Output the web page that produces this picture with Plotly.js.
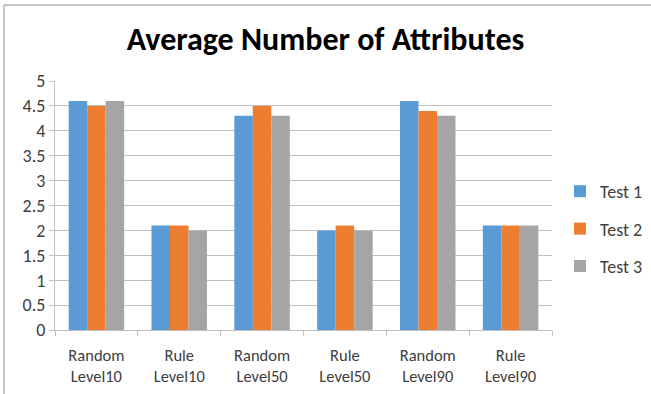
<!DOCTYPE html>
<html>
<head>
<meta charset="utf-8">
<script src="https://cdn.plot.ly/plotly-3.0.1.min.js"></script>
<style>html,body{margin:0;padding:0;background:#fff}#chart{width:651px;height:394px}</style>
</head>
<body>
<div id="chart"></div>
<script>
const categories = ["Random<br>Level10","Rule<br>Level10","Random<br>Level50","Rule<br>Level50","Random<br>Level90","Rule<br>Level90"];
const seriesNames = ["Test 1","Test 2","Test 3"];
const test1 = [4.6, 2.1, 4.3, 2.0, 4.6, 2.1];
const test2 = [4.5, 2.1, 4.5, 2.1, 4.4, 2.1];
const test3 = [4.6, 2.0, 4.3, 2.0, 4.3, 2.1];
const colors = ["#5B9BD5","#ED7D31","#A5A5A5"];
const values = [test1, test2, test3];

const font = "Carlito, Calibri, Lato, 'Open Sans', sans-serif";
const traces = values.map((v,i)=>({
  type:'bar', x:categories, y:v, name:seriesNames[i], legendgroup:'g'+i,
  marker:{color:colors[i]}, hoverinfo:'none'
}));

const L=55, R=99, T=81, B=64, W=651, H=394;
const pw=W-L-R, ph=H-T-B;
const px=x=>(x-L)/pw, py=y=>(H-B-y)/ph;

const layout = {
  width:W, height:H,
  margin:{l:L,r:R,t:T,b:B,pad:0,autoexpand:false},
  paper_bgcolor:'#fff', plot_bgcolor:'#fff',
  barmode:'group', bargap:0.33, bargroupgap:0,
  font:{family:font, size:16, color:'#595959'},
  title:{text:'<b>Average Number of Attributes</b>', x:0.5, xref:'container', xanchor:'center', y:1-39/H, yref:'container', yanchor:'middle',
    font:{family:font, size:32, color:'#000'}},
  xaxis:{showline:true, linecolor:'#bfbfbf', linewidth:1, ticks:'outside', tickson:'boundaries', ticklen:5, tickcolor:'#bfbfbf',
    showgrid:false, tickfont:{size:16.5, color:'#404040'}, ticklabelstandoff:10, fixedrange:true},
  yaxis:{range:[0,5], dtick:0.5, tick0:0, showline:true, linecolor:'#bfbfbf', linewidth:1, ticks:'outside', ticklen:5, tickcolor:'#bfbfbf',
    showgrid:true, gridcolor:'#bfbfbf', gridwidth:1, zeroline:false, tickfont:{size:18, color:'#404040'}, fixedrange:true},
  legend:{x:px(560), xanchor:'left', y:py(229), yanchor:'middle', tracegroupgap:11, font:{size:18, color:'#404040'}, bgcolor:'rgba(0,0,0,0)'},
  showlegend:true,
  shapes:[
    {type:'line', xref:'paper', yref:'paper', x0:px(4), x1:px(651), y0:py(5), y1:py(5), line:{color:'#8c8c8c', width:1}},
    {type:'line', xref:'paper', yref:'paper', x0:px(4), x1:px(4), y0:py(5), y1:py(394), line:{color:'#8c8c8c', width:1}}
  ]
};
Plotly.newPlot('chart', traces, layout, {displayModeBar:false, staticPlot:true});
</script>
</body>
</html>
